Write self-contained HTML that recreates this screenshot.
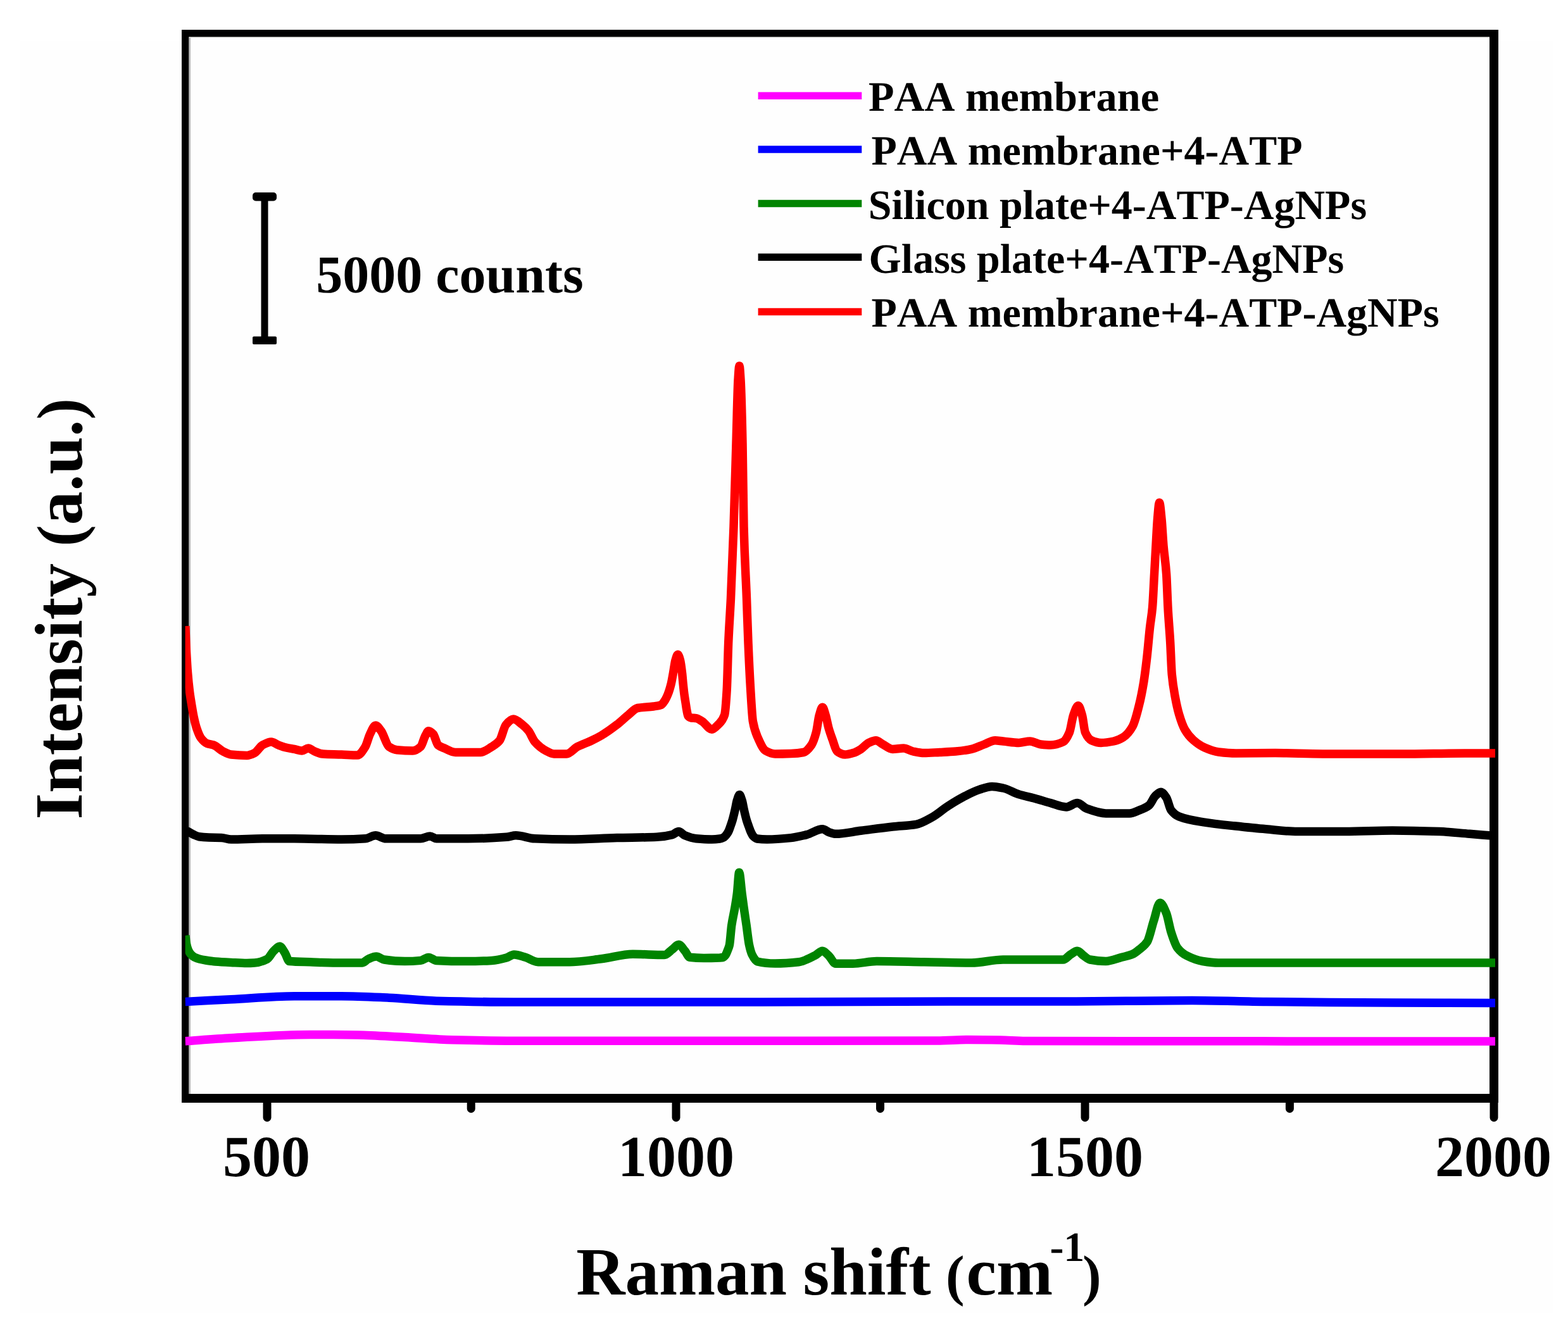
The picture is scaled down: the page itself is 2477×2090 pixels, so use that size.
<!DOCTYPE html>
<html><head><meta charset="utf-8"><style>
html,body{margin:0;padding:0;background:#fff;}
svg{display:block;}
text{font-family:"Liberation Serif","Times New Roman",serif;font-weight:bold;fill:#000;font-kerning:none;text-rendering:geometricPrecision;}
.lg{font-size:66px;}
.tk{font-size:92px;}
.ax{font-size:107px;}
</style></head><body>
<svg width="2477" height="2090" viewBox="0 0 2477 2090">
<rect x="0" y="0" width="2477" height="2090" fill="#ffffff"/>
<rect x="31" y="65" width="2423" height="2009" fill="#fefefe"/>
<g fill="#000">
<rect x="287" y="47" width="2080" height="11.5"/>
<rect x="287" y="47" width="11.5" height="1695"/>
<rect x="2353" y="47" width="14" height="1695"/>
<rect x="287" y="1728" width="2080" height="14"/>
</g>
<rect x="298.5" y="58.5" width="2.5" height="1669.5" fill="#b9b9b9"/>
<rect x="298.5" y="58.5" width="2054.5" height="1.2" fill="#e2e2dc"/>
<g stroke="#000" stroke-width="13" stroke-linecap="round"><line x1="422" y1="1735" x2="422" y2="1765.5"/><line x1="1068" y1="1735" x2="1068" y2="1765.5"/><line x1="1714" y1="1735" x2="1714" y2="1765.5"/><line x1="2360" y1="1735" x2="2360" y2="1765.5"/><line x1="744.2" y1="1735" x2="744.2" y2="1751.5"/><line x1="1390.5" y1="1735" x2="1390.5" y2="1751.5"/><line x1="2037.4" y1="1735" x2="2037.4" y2="1751.5"/></g>
<g class="tk" text-anchor="middle">
<text x="421" y="1858">500</text>
<text x="1068" y="1858">1000</text>
<text x="1714" y="1858">1500</text>
<text x="2359" y="1858">2000</text>
</g>
<text class="ax" y="2044.5"><tspan x="910.2">Raman</tspan><tspan x="1268.5">shift</tspan><tspan x="1494.1" style="font-size:89px">(</tspan><tspan x="1526.6">cm</tspan><tspan x="1658.4" y="1992.3" style="font-size:66px">-1</tspan><tspan x="1710.1" y="2044.5" style="font-size:89px">)</tspan></text>
<text class="ax" transform="translate(128.5,1294.4) rotate(-90)">Intensity <tspan style="font-size:102px">(</tspan>a.u.<tspan style="font-size:102px">)</tspan></text>
<defs><clipPath id="pc"><rect x="292.6" y="0" width="2069.4" height="2090"/></clipPath></defs>
<g fill="none" stroke-width="13.5" stroke-linejoin="round" stroke-linecap="butt" clip-path="url(#pc)">
<path d="M292.5,1644.8 C316.6,1643.1 340.8,1641.1 364.9,1639.8 C406.5,1637.5 448.1,1634.4 489.7,1634.4 C514.7,1634.4 539.6,1634.6 564.6,1634.9 C589.6,1635.2 614.5,1637.3 639.5,1638.6 C664.5,1639.9 689.4,1642.2 714.4,1642.8 C746.8,1643.6 779.3,1644.3 811.7,1644.3 C1034.5,1644.3 1257.2,1644.3 1480.0,1644.0 C1496.7,1644.0 1513.3,1642.5 1530.0,1642.5 C1546.7,1642.5 1563.3,1642.7 1580.0,1643.0 C1593.3,1643.2 1606.7,1644.5 1620.0,1644.5 C1867.3,1645.0 2114.7,1644.8 2362.0,1645.0" stroke="#ff00ff"/>
<path d="M292.5,1582.4 C316.6,1581.2 340.8,1579.9 364.9,1578.7 C398.2,1577.0 431.4,1573.7 464.7,1573.7 C489.7,1573.7 514.6,1573.7 539.6,1573.7 C564.6,1573.7 589.5,1575.1 614.5,1576.2 C639.5,1577.3 664.4,1580.6 689.4,1581.2 C730.2,1582.2 770.9,1583.0 811.7,1583.0 C941.1,1583.0 1070.6,1583.0 1200.0,1583.0 C1300.0,1583.0 1400.0,1582.0 1500.0,1582.0 C1566.7,1582.0 1633.3,1582.0 1700.0,1582.0 C1761.0,1582.0 1822.0,1580.5 1883.0,1580.5 C1922.0,1580.5 1961.0,1582.1 2000.0,1582.5 C2066.7,1583.2 2133.3,1583.7 2200.0,1584.0 C2254.0,1584.2 2308.0,1584.3 2362.0,1584.5" stroke="#0000ff"/>
<path d="M292.8,1478.0 C293.4,1482.3 293.9,1488.2 294.5,1491.0 C295.3,1495.2 296.2,1498.0 297.0,1500.0 C298.3,1503.2 299.7,1505.5 301.0,1507.0 C303.0,1509.3 305.0,1510.9 307.0,1512.0 C309.7,1513.4 312.3,1514.3 315.0,1515.0 C318.3,1515.9 321.7,1516.5 325.0,1517.0 C330.0,1517.8 335.0,1518.6 340.0,1519.0 C348.3,1519.7 356.7,1520.1 365.0,1520.5 C373.3,1520.9 381.7,1521.5 390.0,1521.5 C394.1,1521.5 398.2,1521.3 402.3,1521.0 C409.0,1520.5 415.6,1518.4 422.3,1514.9 C425.6,1513.1 429.0,1505.6 432.3,1502.4 C435.5,1499.3 438.6,1494.9 441.8,1494.9 C444.5,1494.9 447.1,1500.9 449.8,1504.9 C452.3,1508.6 454.7,1518.4 457.2,1518.6 C468.0,1519.6 478.9,1519.5 489.7,1519.8 C506.3,1520.3 523.0,1521.0 539.6,1521.0 C550.4,1521.0 561.2,1521.0 572.0,1521.0 C575.3,1521.0 578.7,1516.3 582.0,1514.9 C586.2,1513.2 590.3,1511.1 594.5,1511.1 C598.7,1511.1 602.8,1515.4 607.0,1516.0 C617.8,1517.6 628.7,1518.6 639.5,1518.6 C647.8,1518.6 656.1,1518.2 664.4,1517.4 C668.6,1517.0 672.8,1512.4 677.0,1512.4 C681.1,1512.4 685.3,1517.2 689.4,1517.4 C706.0,1518.3 722.7,1518.6 739.3,1518.6 C751.8,1518.6 764.3,1518.1 776.8,1517.4 C784.5,1517.0 792.3,1515.1 800.0,1513.0 C804.0,1511.9 808.0,1508.0 812.0,1508.0 C818.0,1508.0 824.0,1510.6 830.0,1512.3 C836.7,1514.2 843.3,1519.7 850.0,1519.7 C866.6,1519.7 883.2,1519.7 899.8,1519.7 C916.5,1519.7 933.1,1516.8 949.8,1514.8 C966.4,1512.8 983.1,1507.3 999.7,1507.3 C1016.3,1507.3 1033.0,1508.5 1049.6,1508.5 C1053.8,1508.5 1057.9,1502.8 1062.1,1499.8 C1065.4,1497.4 1068.8,1492.3 1072.1,1492.3 C1075.4,1492.3 1078.7,1498.5 1082.0,1502.3 C1084.5,1505.2 1087.1,1512.0 1089.6,1512.3 C1097.1,1513.2 1104.5,1513.5 1112.0,1513.5 C1120.3,1513.5 1128.7,1513.3 1137.0,1513.0 C1138.7,1512.9 1140.3,1512.8 1142.0,1512.5 C1143.3,1512.3 1144.7,1510.7 1146.0,1509.0 C1147.3,1507.3 1148.7,1503.5 1150.0,1500.0 C1150.8,1497.9 1151.6,1496.3 1152.4,1492.7 C1153.5,1487.8 1154.6,1469.7 1155.7,1462.0 C1157.5,1449.7 1159.2,1444.1 1161.0,1433.5 C1162.1,1426.7 1163.3,1420.0 1164.4,1411.0 C1165.5,1402.3 1166.6,1378.2 1167.7,1378.2 C1169.1,1378.2 1170.6,1400.2 1172.0,1411.0 C1173.0,1418.6 1174.0,1426.4 1175.0,1433.5 C1176.4,1443.5 1177.8,1452.3 1179.2,1462.0 C1180.6,1472.0 1182.1,1486.1 1183.5,1492.7 C1185.0,1499.6 1186.5,1505.1 1188.0,1508.0 C1190.8,1513.6 1193.7,1518.3 1196.5,1519.0 C1205.8,1521.2 1215.1,1522.0 1224.4,1522.0 C1236.9,1522.0 1249.3,1521.1 1261.8,1519.7 C1270.1,1518.8 1278.5,1513.9 1286.8,1509.8 C1291.0,1507.8 1295.1,1502.3 1299.3,1502.3 C1302.6,1502.3 1305.9,1506.8 1309.2,1509.8 C1312.8,1513.1 1316.4,1522.2 1320.0,1522.2 C1329.1,1522.2 1338.3,1522.2 1347.4,1522.2 C1359.9,1522.2 1372.4,1518.5 1384.9,1518.5 C1409.9,1518.5 1434.8,1519.3 1459.8,1519.7 C1484.8,1520.1 1509.7,1521.0 1534.7,1521.0 C1551.3,1521.0 1568.0,1516.0 1584.6,1516.0 C1601.2,1516.0 1617.9,1516.0 1634.5,1516.0 C1649.5,1516.0 1664.4,1516.0 1679.4,1516.0 C1683.6,1516.0 1687.7,1509.7 1691.9,1507.3 C1695.2,1505.4 1698.6,1502.3 1701.9,1502.3 C1705.2,1502.3 1708.6,1507.5 1711.9,1509.8 C1715.2,1512.1 1718.6,1515.4 1721.9,1516.0 C1730.2,1517.6 1738.6,1518.5 1746.9,1518.5 C1755.2,1518.5 1763.5,1514.5 1771.8,1512.3 C1777.6,1510.7 1783.5,1509.8 1789.3,1507.3 C1792.9,1505.8 1796.4,1502.7 1800.0,1499.8 C1804.2,1496.4 1808.3,1493.8 1812.5,1487.3 C1815.8,1482.1 1819.2,1465.0 1822.5,1454.9 C1825.8,1444.8 1829.2,1426.2 1832.5,1426.2 C1835.8,1426.2 1839.1,1434.6 1842.4,1442.4 C1844.9,1448.4 1847.5,1464.6 1850.0,1472.4 C1853.3,1482.7 1856.7,1493.0 1860.0,1497.3 C1865.0,1503.7 1869.9,1507.3 1874.9,1509.8 C1883.2,1514.0 1891.5,1517.2 1899.8,1518.5 C1908.1,1519.8 1916.5,1521.0 1924.8,1521.0 C2070.5,1521.0 2216.3,1521.0 2362.0,1521.0" stroke="#008400"/>
<path d="M292.8,1311.5 C294.5,1312.3 296.3,1313.1 298.0,1314.0 C300.7,1315.4 303.3,1317.3 306.0,1318.5 C308.8,1319.8 311.7,1321.3 314.5,1321.7 C319.7,1322.5 324.8,1322.8 330.0,1323.0 C336.7,1323.2 343.3,1323.2 350.0,1323.4 C355.0,1323.6 360.0,1326.0 365.0,1326.0 C381.6,1326.0 398.2,1324.8 414.8,1324.8 C431.4,1324.8 448.1,1324.8 464.7,1324.8 C489.7,1324.8 514.6,1326.0 539.6,1326.0 C552.1,1326.0 564.5,1325.6 577.0,1324.8 C582.4,1324.4 587.9,1319.8 593.3,1319.8 C598.7,1319.8 604.1,1324.8 609.5,1324.8 C627.8,1324.8 646.1,1324.8 664.4,1324.8 C669.4,1324.8 674.4,1321.0 679.4,1321.0 C682.7,1321.0 686.1,1324.8 689.4,1324.8 C706.0,1324.8 722.7,1324.8 739.3,1324.8 C759.5,1324.8 779.8,1323.8 800.0,1322.3 C805.0,1321.9 810.0,1319.8 815.0,1319.8 C825.0,1319.8 835.0,1324.4 845.0,1324.8 C863.3,1325.6 881.5,1326.0 899.8,1326.0 C924.8,1326.0 949.7,1324.2 974.7,1323.6 C995.5,1323.1 1016.3,1323.2 1037.1,1322.3 C1045.4,1322.0 1053.8,1320.7 1062.1,1318.6 C1065.4,1317.8 1068.8,1313.6 1072.1,1313.6 C1075.4,1313.6 1078.7,1318.5 1082.0,1319.8 C1087.9,1322.2 1093.7,1324.3 1099.6,1324.8 C1107.9,1325.5 1116.2,1326.0 1124.5,1326.0 C1128.7,1326.0 1132.8,1325.6 1137.0,1325.0 C1139.0,1324.7 1141.0,1324.0 1143.0,1323.0 C1144.7,1322.2 1146.3,1320.1 1148.0,1318.0 C1149.0,1316.7 1150.0,1315.1 1151.0,1313.0 C1152.0,1310.9 1153.0,1307.8 1154.0,1305.0 C1155.0,1302.2 1156.0,1299.4 1157.0,1296.0 C1158.3,1291.5 1159.7,1285.7 1161.0,1280.0 C1162.2,1275.0 1163.3,1267.6 1164.5,1264.0 C1165.7,1260.2 1167.0,1255.5 1168.2,1255.5 C1169.5,1255.5 1170.7,1260.2 1172.0,1264.0 C1173.2,1267.5 1174.3,1275.0 1175.5,1280.0 C1176.8,1285.7 1178.2,1291.6 1179.5,1296.0 C1180.7,1299.9 1181.8,1302.8 1183.0,1306.0 C1184.0,1308.8 1185.0,1311.9 1186.0,1314.0 C1187.3,1316.8 1188.7,1319.7 1190.0,1321.0 C1192.0,1323.0 1194.0,1324.7 1196.0,1325.0 C1201.3,1325.7 1206.6,1326.0 1211.9,1326.0 C1224.4,1326.0 1236.8,1324.9 1249.3,1323.6 C1257.6,1322.8 1266.0,1320.7 1274.3,1318.6 C1282.6,1316.5 1291.0,1309.8 1299.3,1309.8 C1302.9,1309.8 1306.4,1313.6 1310.0,1314.8 C1313.3,1315.9 1316.7,1317.3 1320.0,1317.3 C1333.3,1317.3 1346.7,1314.0 1360.0,1312.3 C1376.6,1310.2 1393.3,1307.8 1409.9,1306.0 C1422.4,1304.6 1434.8,1304.4 1447.3,1302.3 C1455.6,1300.9 1464.0,1295.7 1472.3,1291.1 C1480.6,1286.6 1488.9,1279.0 1497.2,1273.6 C1505.5,1268.2 1513.9,1263.0 1522.2,1258.7 C1530.5,1254.4 1538.8,1250.0 1547.1,1247.4 C1553.8,1245.3 1560.4,1242.4 1567.1,1242.4 C1572.9,1242.4 1578.8,1243.8 1584.6,1245.0 C1592.9,1246.7 1601.2,1252.3 1609.5,1254.9 C1617.8,1257.5 1626.2,1258.9 1634.5,1261.2 C1642.8,1263.5 1651.2,1266.3 1659.5,1268.6 C1667.8,1270.9 1676.1,1274.9 1684.4,1274.9 C1690.2,1274.9 1696.1,1268.6 1701.9,1268.6 C1706.9,1268.6 1711.9,1275.6 1716.9,1277.4 C1726.9,1281.1 1736.9,1284.9 1746.9,1284.9 C1759.4,1284.9 1771.8,1284.9 1784.3,1284.9 C1789.5,1284.9 1794.8,1281.9 1800.0,1279.9 C1805.0,1278.0 1810.0,1276.3 1815.0,1272.4 C1818.3,1269.8 1821.7,1260.6 1825.0,1257.4 C1827.9,1254.6 1830.8,1251.2 1833.7,1251.2 C1836.6,1251.2 1839.5,1255.7 1842.4,1259.9 C1844.9,1263.6 1847.5,1276.6 1850.0,1279.9 C1854.1,1285.2 1858.3,1288.3 1862.4,1289.9 C1874.9,1294.9 1887.3,1296.6 1899.8,1298.6 C1916.5,1301.3 1933.1,1303.0 1949.8,1304.8 C1966.4,1306.6 1983.1,1308.4 1999.7,1309.8 C2016.3,1311.2 2033.0,1313.6 2049.6,1313.6 C2074.6,1313.6 2099.5,1313.6 2124.5,1313.6 C2149.5,1313.6 2174.4,1312.0 2199.4,1312.0 C2224.4,1312.0 2249.3,1312.7 2274.3,1313.6 C2290.1,1314.2 2305.9,1316.1 2321.7,1317.3 C2335.1,1318.4 2348.6,1319.4 2362.0,1320.5" stroke="#000000"/>
<path d="M292.8,989.0 C293.4,1002.7 293.9,1019.0 294.5,1030.0 C295.2,1042.9 295.8,1053.7 296.5,1062.0 C297.5,1074.5 298.5,1084.0 299.5,1092.0 C300.5,1100.0 301.5,1105.8 302.5,1112.0 C303.7,1119.2 304.8,1126.5 306.0,1132.0 C307.5,1139.1 309.0,1145.5 310.5,1150.0 C312.8,1156.9 315.2,1163.0 317.5,1166.0 C320.8,1170.3 324.1,1173.5 327.4,1174.7 C330.7,1175.9 334.1,1175.9 337.4,1177.0 C342.4,1178.7 347.4,1184.5 352.4,1187.0 C356.6,1189.1 360.8,1191.6 365.0,1192.0 C373.3,1192.9 381.7,1193.4 390.0,1193.4 C394.0,1193.4 398.0,1191.5 402.0,1189.6 C406.3,1187.6 410.5,1179.3 414.8,1177.0 C419.4,1174.6 423.9,1172.0 428.5,1172.0 C432.3,1172.0 436.0,1175.6 439.8,1177.0 C443.9,1178.5 447.9,1180.0 452.0,1181.0 C456.2,1182.0 460.5,1182.6 464.7,1183.4 C468.8,1184.2 472.9,1186.0 477.0,1186.0 C480.3,1186.0 483.7,1182.0 487.0,1182.0 C490.3,1182.0 493.7,1185.7 497.0,1187.0 C501.2,1188.7 505.5,1190.7 509.7,1191.0 C519.7,1191.7 529.6,1191.6 539.6,1192.0 C547.9,1192.3 556.3,1193.0 564.6,1193.0 C568.7,1193.0 572.9,1186.3 577.0,1179.7 C579.5,1175.7 582.0,1164.6 584.5,1159.7 C587.4,1153.9 590.4,1146.0 593.3,1146.0 C596.2,1146.0 599.1,1150.9 602.0,1154.7 C606.2,1160.1 610.3,1176.9 614.5,1179.7 C618.7,1182.5 622.8,1184.3 627.0,1184.7 C635.3,1185.5 643.7,1186.0 652.0,1186.0 C656.1,1186.0 660.3,1183.3 664.4,1179.7 C666.9,1177.5 669.5,1166.5 672.0,1162.0 C673.7,1159.1 675.3,1154.7 677.0,1154.7 C679.5,1154.7 681.9,1157.1 684.4,1159.7 C686.9,1162.3 689.5,1174.9 692.0,1177.0 C695.3,1179.8 698.7,1180.6 702.0,1182.0 C707.8,1184.5 713.6,1188.4 719.4,1188.4 C732.7,1188.4 746.0,1188.4 759.3,1188.4 C765.1,1188.4 771.0,1183.3 776.8,1179.7 C781.0,1177.1 785.1,1174.9 789.3,1169.7 C792.6,1165.6 795.9,1148.9 799.2,1145.0 C803.1,1140.3 807.1,1136.0 811.0,1136.0 C815.7,1136.0 820.3,1141.1 825.0,1144.7 C828.3,1147.3 831.7,1150.5 835.0,1154.7 C838.3,1158.9 841.7,1168.2 845.0,1172.0 C850.8,1178.6 856.6,1183.0 862.4,1186.0 C866.6,1188.2 870.8,1191.0 875.0,1191.0 C881.7,1191.0 888.3,1191.0 895.0,1191.0 C900.8,1191.0 906.5,1182.6 912.3,1179.6 C919.0,1176.1 925.6,1174.1 932.3,1171.0 C938.1,1168.3 944.0,1165.4 949.8,1162.0 C958.1,1157.1 966.4,1151.1 974.7,1144.7 C980.5,1140.2 986.4,1134.3 992.2,1129.7 C997.2,1125.7 1002.2,1119.4 1007.2,1118.5 C1015.5,1116.9 1023.9,1117.2 1032.2,1116.0 C1036.3,1115.4 1040.5,1115.1 1044.6,1113.5 C1046.4,1112.8 1048.2,1109.7 1050.0,1107.0 C1051.7,1104.5 1053.3,1101.1 1055.0,1097.0 C1056.7,1092.9 1058.3,1087.7 1060.0,1081.0 C1061.2,1076.3 1062.3,1069.3 1063.5,1063.0 C1064.7,1056.7 1065.8,1046.9 1067.0,1043.0 C1068.3,1038.7 1069.5,1034.0 1070.8,1034.0 C1072.0,1034.0 1073.3,1038.5 1074.5,1043.0 C1075.5,1046.6 1076.5,1054.6 1077.5,1063.0 C1078.1,1067.7 1078.6,1075.5 1079.2,1081.0 C1079.8,1086.8 1080.4,1092.5 1081.0,1097.0 C1081.7,1102.0 1082.3,1105.7 1083.0,1110.0 C1083.6,1113.7 1084.1,1118.0 1084.7,1121.0 C1085.5,1125.0 1086.2,1130.1 1087.0,1131.0 C1088.7,1132.9 1090.3,1133.7 1092.0,1134.0 C1094.5,1134.4 1097.1,1134.3 1099.6,1134.7 C1102.9,1135.2 1106.2,1137.7 1109.5,1139.7 C1114.5,1142.8 1119.5,1152.2 1124.5,1152.2 C1127.8,1152.2 1131.2,1148.0 1134.5,1144.7 C1137.8,1141.4 1141.2,1139.6 1144.5,1129.7 C1145.7,1126.0 1147.0,1110.0 1148.2,1089.8 C1149.0,1076.2 1149.9,1034.3 1150.7,1015.0 C1152.0,985.6 1153.2,971.8 1154.5,945.0 C1156.0,913.3 1157.5,874.9 1159.0,832.0 C1160.3,793.9 1161.7,744.2 1163.0,700.0 C1164.0,666.8 1165.0,616.0 1166.0,600.0 C1166.7,589.3 1167.3,578.0 1168.0,578.0 C1168.7,578.0 1169.3,589.3 1170.0,600.0 C1171.0,616.0 1172.0,654.7 1173.0,700.0 C1173.7,730.2 1174.3,806.3 1175.0,832.0 C1176.5,889.9 1178.0,905.1 1179.5,945.0 C1180.3,967.2 1181.2,995.2 1182.0,1015.0 C1183.2,1044.3 1184.5,1069.8 1185.7,1089.8 C1186.9,1109.8 1188.2,1132.6 1189.4,1139.7 C1191.9,1154.0 1194.4,1158.9 1196.9,1164.7 C1201.1,1174.4 1205.2,1183.6 1209.4,1186.0 C1214.4,1188.8 1219.4,1191.0 1224.4,1191.0 C1232.7,1191.0 1241.0,1190.8 1249.3,1190.5 C1256.0,1190.3 1262.6,1189.8 1269.3,1188.5 C1273.5,1187.7 1277.6,1182.9 1281.8,1177.0 C1284.3,1173.4 1286.8,1166.2 1289.3,1157.0 C1291.0,1150.9 1292.6,1135.4 1294.3,1129.7 C1296.0,1124.0 1297.6,1117.2 1299.3,1117.2 C1300.9,1117.2 1302.6,1124.5 1304.2,1129.7 C1305.8,1134.8 1307.4,1144.3 1309.0,1150.0 C1311.0,1157.1 1313.0,1162.5 1315.0,1168.0 C1317.5,1174.9 1320.0,1185.2 1322.5,1187.0 C1326.7,1190.1 1330.8,1192.0 1335.0,1192.0 C1339.1,1192.0 1343.3,1190.7 1347.4,1189.6 C1351.6,1188.4 1355.8,1186.0 1360.0,1183.4 C1364.1,1180.9 1368.3,1175.3 1372.4,1173.4 C1376.1,1171.7 1379.9,1169.7 1383.6,1169.7 C1387.4,1169.7 1391.1,1174.0 1394.9,1176.0 C1399.9,1178.6 1404.9,1183.4 1409.9,1183.4 C1415.7,1183.4 1421.5,1182.0 1427.3,1182.0 C1432.3,1182.0 1437.3,1186.0 1442.3,1187.0 C1448.1,1188.2 1454.0,1189.6 1459.8,1189.6 C1468.1,1189.6 1476.4,1188.8 1484.7,1188.4 C1493.0,1188.0 1501.4,1187.7 1509.7,1187.0 C1518.0,1186.3 1526.4,1185.2 1534.7,1183.4 C1541.3,1182.0 1548.0,1178.4 1554.6,1176.0 C1560.4,1173.9 1566.2,1169.7 1572.0,1169.7 C1576.2,1169.7 1580.4,1170.6 1584.6,1171.0 C1592.9,1171.8 1601.2,1173.4 1609.5,1173.4 C1615.3,1173.4 1621.2,1171.0 1627.0,1171.0 C1632.8,1171.0 1638.7,1175.4 1644.5,1176.0 C1649.5,1176.5 1654.5,1177.0 1659.5,1177.0 C1666.1,1177.0 1672.8,1175.1 1679.4,1172.0 C1682.7,1170.4 1686.1,1164.7 1689.4,1157.0 C1691.5,1152.1 1693.6,1135.5 1695.7,1129.7 C1698.2,1122.8 1700.7,1114.7 1703.2,1114.7 C1705.3,1114.7 1707.3,1122.7 1709.4,1129.7 C1711.1,1135.4 1712.7,1153.3 1714.4,1157.0 C1717.7,1164.4 1721.1,1168.3 1724.4,1169.7 C1729.4,1171.9 1734.4,1173.4 1739.4,1173.4 C1746.0,1173.4 1752.7,1172.3 1759.3,1171.0 C1764.3,1170.0 1769.3,1167.8 1774.3,1164.7 C1779.3,1161.6 1784.3,1156.1 1789.3,1147.2 C1792.6,1141.3 1796.0,1128.0 1799.3,1114.7 C1801.8,1104.8 1804.3,1092.6 1806.8,1077.3 C1808.4,1067.3 1810.1,1053.9 1811.7,1039.8 C1813.4,1025.4 1815.0,1004.6 1816.7,990.0 C1818.0,978.9 1819.2,974.0 1820.5,960.0 C1821.5,948.9 1822.5,924.8 1823.5,907.0 C1824.3,892.1 1825.2,876.5 1826.0,862.0 C1826.8,847.5 1827.7,829.6 1828.5,820.0 C1829.5,808.5 1830.5,794.0 1831.5,794.0 C1832.7,794.0 1833.8,808.6 1835.0,820.0 C1836.0,829.8 1837.0,850.3 1838.0,862.0 C1839.5,879.9 1841.1,885.3 1842.6,907.0 C1843.4,918.3 1844.2,945.6 1845.0,960.0 C1846.2,982.2 1847.5,993.7 1848.7,1014.9 C1849.5,1029.2 1850.4,1055.6 1851.2,1064.8 C1852.9,1083.1 1854.5,1090.8 1856.2,1100.0 C1858.3,1111.7 1860.5,1121.4 1862.6,1128.5 C1865.7,1139.0 1868.9,1147.7 1872.0,1153.0 C1876.3,1160.4 1880.7,1165.2 1885.0,1169.0 C1891.0,1174.3 1897.0,1178.4 1903.0,1181.0 C1910.3,1184.2 1917.7,1187.1 1925.0,1188.0 C1934.1,1189.1 1943.2,1190.0 1952.3,1190.0 C1973.1,1190.0 1993.9,1189.6 2014.7,1189.6 C2039.7,1189.6 2064.6,1190.9 2089.6,1190.9 C2131.2,1191.0 2172.8,1191.0 2214.4,1191.0 C2247.7,1191.0 2281.0,1190.0 2314.3,1190.0 C2330.2,1190.0 2346.1,1190.0 2362.0,1190.0" stroke="#ff0000"/>
</g>
<line x1="1197.6" y1="151.3" x2="1361.3" y2="151.3" stroke="#ff00ff" stroke-width="11.5"/><text x="1372" y="174.8" class="lg" style="font-size:66.4px">PAA membrane</text><line x1="1197.6" y1="235.9" x2="1361.3" y2="235.9" stroke="#0000ff" stroke-width="11.5"/><text x="1376.5" y="260" class="lg">PAA membrane+4-ATP</text><line x1="1197.6" y1="321.6" x2="1361.3" y2="321.6" stroke="#008400" stroke-width="11.5"/><text x="1371.7" y="345.5" class="lg">Silicon plate+4-ATP-AgNPs</text><line x1="1197.6" y1="406.3" x2="1361.3" y2="406.3" stroke="#000000" stroke-width="11.5"/><text x="1372.5" y="431" class="lg">Glass plate+4-ATP-AgNPs</text><line x1="1197.6" y1="492.5" x2="1361.3" y2="492.5" stroke="#ff0000" stroke-width="11.5"/><text x="1376.5" y="516.3" class="lg">PAA membrane+4-ATP-AgNPs</text>
<g fill="#000">
<rect x="412.5" y="310" width="11" height="228"/>
<rect x="399" y="304" width="38" height="13.5" rx="5"/>
<rect x="399" y="531.5" width="38" height="12.5" rx="2"/>
</g>
<text x="499.3" y="461.5" style="font-size:84px">5000 counts</text>
</svg>
</body></html>
